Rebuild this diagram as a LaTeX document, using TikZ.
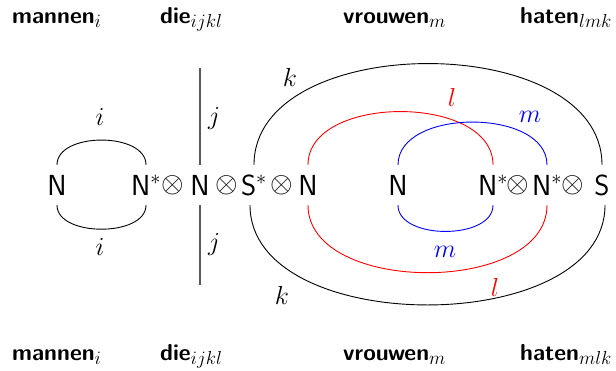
\RequirePackage{fix-cm}
\documentclass[tikz,border=0pt]{standalone}
\usepackage{fontspec}
\newcommand{\wsub}[1]{{\fontsize{27}{30}\selectfont$_{#1}$}}
\begin{document}
\begin{tikzpicture}[x=1pt,y=-1pt,
  sym/.style={font=\fontsize{29}{34}\selectfont\sffamily, inner sep=0pt, minimum height=40pt},
  word/.style={font=\fontsize{23}{28}\selectfont\sffamily\bfseries, inner sep=0pt, anchor=base west},
  lab/.style={font=\fontsize{26}{30}\selectfont, inner sep=0pt},
  wire/.style={line width=0.9pt},
  redw/.style={wire, draw=red},
  bluew/.style={wire, draw=blue}]
\useasboundingbox (0,0) rectangle (616,370);
% words
\node[word] (wt1) at (12,23) {mannen\wsub{i}};
\node[word] (wt2) at (160,23) {die\wsub{ijkl}};
\node[word] (wt3) at (343,23) {vrouwen\wsub{m}};
\node[word] (wt4) at (520,23) {haten\wsub{lmk}};
\node[word] (wb1) at (12,360) {mannen\wsub{i}};
\node[word] (wb2) at (160,360) {die\wsub{ijkl}};
\node[word] (wb3) at (343,360) {vrouwen\wsub{m}};
\node[word] (wb4) at (520,360) {haten\wsub{mlk}};
% symbols
\node[sym] (n1) at (57,185) {N};
\node[sym] (n2) at (146,185) {N$^*$};
\node[sym] (o1) at (173,185) {$\otimes$};
\node[sym] (n3) at (200,185) {N};
\node[sym] (o2) at (227,185) {$\otimes$};
\node[sym] (s1) at (254,185) {S$^*$};
\node[sym] (o3) at (282,185) {$\otimes$};
\node[sym] (n4) at (308,185) {N};
\node[sym] (n5) at (398,185) {N};
\node[sym] (n6) at (493,185) {N$^*$};
\node[sym] (o4) at (518,185) {$\otimes$};
\node[sym] (n7) at (547,185) {N$^*$};
\node[sym] (o5) at (573,185) {$\otimes$};
\node[sym] (s2) at (602,185) {S};
% coordinates for the vertical line
\coordinate (vt) at (200,68);
\coordinate (vb) at (200,285);
\draw[line width=1.1pt, black!65] (vt) -- (n3.north);
\draw[line width=1.1pt, black!65] (n3.south) -- (vb);
% i arcs
\draw[wire] (n1.north) .. controls +(0,-33) and +(0,-33) .. (n2.north);
\draw[wire] (n1.south) .. controls +(0,32) and +(0,32) .. (n2.south);
% k arcs
\draw[wire] (s1.north) .. controls +(0,-135) and +(0,-135) .. (s2.north);
\draw[wire] ([xshift=-4pt]s1.south) .. controls +(0,133) and +(0,133) .. ([xshift=3pt]s2.south);
% l arcs
\draw[redw] (n4.north) .. controls +(0,-71) and +(0,-71) .. (n6.north);
\draw[redw] (n4.south) .. controls +(0,90) and +(0,90) .. (n7.south);
% m arcs
\draw[bluew] (n5.north) .. controls +(0,-57) and +(0,-57) .. (n7.north);
\draw[bluew] (n5.south) .. controls +(0,35) and +(0,35) .. (n6.south);
% labels
\node[lab] (li1) at (100,117) {$i$};
\node[lab] (li2) at (100,247) {$i$};
\node[lab] (lj1) at (214,119) {$j$};
\node[lab] (lj2) at (214,245) {$j$};
\node[lab] (lk1) at (290,77) {$k$};
\node[lab] (lk2) at (282,295) {$k$};
\node[lab, text=red] (ll1) at (452,97) {$l$};
\node[lab, text=red] (ll2) at (495,287) {$l$};
\node[lab, text=blue] (lm1) at (530,117) {$m$};
\node[lab, text=blue] (lm2) at (445,252) {$m$};
\end{tikzpicture}
\end{document}
